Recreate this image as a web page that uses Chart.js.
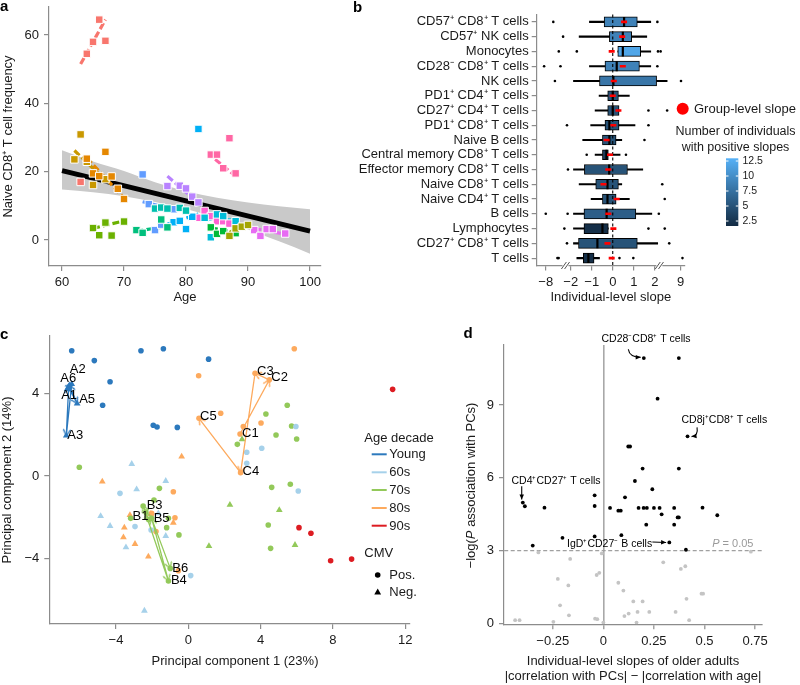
<!DOCTYPE html>
<html><head><meta charset="utf-8">
<script src="https://cdn.jsdelivr.net/npm/chart.js@4.4.1/dist/chart.umd.min.js"></script>
<style>
html,body{margin:0;padding:0;background:#fff;}
#wrap{position:relative;width:800px;height:685px;overflow:hidden;background:#fff;}
canvas{position:absolute;left:0;top:0;}
</style></head><body>
<div id="wrap">
<canvas id="ca" width="800" height="685"></canvas>
<canvas id="cb" width="800" height="685"></canvas>
<canvas id="cc" width="800" height="685"></canvas>
<canvas id="cd" width="800" height="685"></canvas>
</div>
<script>
// ================= DATA =================
// ---- Panel a: naive CD8+ T cell frequency vs age, per individual ----
const indivAges = [
  [63,64,65,66,67],
  [64,65,66,67,68,69,70],
  [62,63,64,65,67],
  [87,88,89,90],
  [65,66,67,68,70],
  [84,85,86,88],
  [72,73,76,77],
  [75,76,77,79,80],
  [83,84,85,86,88],
  [78,79,80,81,82],
  [73,74,75,76,78],
  [77,79,80,81,82],
  [91,92,93,94,96],
  [82,83,84,85,86,87],
  [84,85,86,87,88]
];
const indivFreq = [
  [17.0,54.5,58.0,64.5,58.3],
  [23.8,19.5,18.7,25.8,18.6,15.0,12.0],
  [23.6,30.9,22.9,16.1,17.8],
  [1.2,3.4,3.9,4.4],
  [3.5,1.4,5.1,1.3,5.4],
  [3.7,1.8,2.6,2.0],
  [2.9,2.1,6.0,3.7],
  [9.2,9.5,9.2,9.4,8.6],
  [6.5,0.8,7.5,7.0,5.5],
  [5.2,5.6,3.2,6.8,32.5],
  [19.2,10.5,2.9,4.5,9.0],
  [15.8,15.9,15.1,12.7,11.0],
  [2.9,1.2,3.2,3.2,1.9],
  [6.5,8.5,7.0,5.5,5.5,4.8],
  [25.0,25.0,21.0,29.8,19.5]
];
const indivFitAge = [[63,67],[64,70],[62,67],[87,90],[65,70],[84,88],[72,77],[75,80],[83,88],[77,82],[73,78],[77,82],[91,96],[82,87],[84.7,87.6]];
const indivFitFreq = [[51.5,64.5],[24.0,12.3],[26.2,17.5],[2.2,4.6],[3.4,5.6],[3.5,2.3],[2.6,4.0],[9.6,8.8],[6.2,5.8],[4.6,7.6],[11.2,9.0],[18.7,10.8],[3.3,1.7],[7.0,5.3],[23.6,19.3]];
const popAge = [60, 100];
const popFit = [20.3, 2.6];
const bandAge = [60,65,70,75,80,85,90,95,100];
const bandUpper = [26.3,23.0,20.2,16.9,14.3,12.4,11.0,9.9,9.0];
const bandLower = [14.8,14.0,12.8,11.1,9.1,6.4,3.1,-0.4,-4.0];
const ageTicks = [60,70,80,90,100];
const freqTicks = [0,20,40,60];

// ---- Panel b: individual-level slopes by cell type ----
const cellTypes = ['CD57⁺ CD8⁺ T cells','CD57⁺ NK cells','Monocytes','CD28⁻ CD8⁺ T cells','NK cells','PD1⁺ CD4⁺ T cells','CD27⁺ CD4⁺ T cells','PD1⁺ CD8⁺ T cells','Naive B cells','Central memory CD8⁺ T cells','Effector memory CD8⁺ T cells','Naive CD8⁺ T cells','Naive CD4⁺ T cells','B cells','Lymphocytes','CD27⁺ CD8⁺ T cells','T cells'];
const posCounts = [9,9,12,9,8,5,5,5,5,3,5,5,5,6,2,5,2];
const boxQ1  = [-0.41,-0.16,0.24,-0.37,-0.63,-0.24,-0.24,-0.37,-0.49,-0.49,-1.35,-0.81,-0.49,-1.37,-1.37,-1.63,-1.40];
const boxQ3  = [1.17,0.90,1.33,1.27,2.50,0.27,0.30,0.30,0.16,-0.21,0.70,0.27,0.16,1.10,-0.21,1.17,-0.89];
const boxMed = [0.54,0.48,0.48,0.19,0.03,0.00,0.00,-0.16,-0.16,-0.30,-0.17,-0.25,-0.25,-0.29,-0.49,-0.73,-1.16];
const whiskLo = [-1.11,-1.60,0.24,-1.11,-1.87,-0.65,-0.84,-1.05,-1.43,-0.84,-1.87,-1.60,-1.03,-1.87,-1.87,-1.87,-1.71];
const whiskHi = [1.81,1.62,1.81,1.81,5.35,0.79,0.30,1.06,0.43,0.35,1.43,0.43,0.79,1.86,-0.21,2.80,-0.63];
const groupSlope = [0.54,0.45,-0.05,0.48,0.05,0.00,0.27,0.03,-0.29,-0.13,-0.21,-0.44,0.19,-0.21,0.03,-0.25,-0.05];
const outlierRow = [0,0,1,2,2,2,2,3,3,3,4,4,6,6,7,7,8,9,9,10,11,12,13,13,13,14,14,14,15,15,16,16,16,16,16];
const outlierVal = [-6.19,2.71,-3.84,-4.87,-1.71,2.87,3.58,-8.4,-4.47,2.71,-5.8,9.1,1.7,5.35,-2.9,1.7,1.51,-1.24,0.63,-2.66,4.03,4.7,-8.0,-2.75,3.1,-3.53,1.7,4.7,-2.9,5.92,-5.2,-4.9,0.32,0.98,9.5];
const slopeTicks = [-8,-2,-1,0,1,2,9];
const countBarTicks = [12.5,10,7.5,5,2.5];

// ---- Panel c: principal components, by age decade and CMV ----
const decades = ['Young','60s','70s','80s','90s'];
const pcYoungPos = [[-6.45,6.06],[-5.20,5.58],[-4.33,4.56],[-4.74,3.42],[-2.62,6.06],[-1.38,6.15],[1.12,5.65],[-1.94,2.45],[-1.73,2.37],[-0.61,2.35]];
const pcYoungNeg = [];
const pc60Pos = [[5.95,2.39],[4.06,1.34],[3.23,1.15],[3.23,0.61],[6.08,-0.73],[-3.78,-0.84],[-2.95,-2.45],[-2.06,-2.61],[0.13,-4.82]];
const pc60Neg = [[-3.13,0.58],[-2.86,-0.65],[-1.25,-0.24],[-4.85,-1.94],[-4.33,-2.42],[-3.45,-3.45],[-1.25,-2.9],[-1.66,-1.81],[-2.43,-6.52]];
const pc70Pos = [[-6.03,0.42],[-1.6,-0.6],[-1.9,-1.16],[-3.19,-2.05],[-1.1,-2.05],[-1.2,-2.5],[-0.52,-2.85],[4.29,3.0],[5.47,3.42],[5.71,2.42],[4.85,1.98],[5.99,1.79],[2.71,1.53],[4.61,-0.55],[5.64,-0.40],[4.42,-2.37],[4.55,-3.5]];
const pc70Neg = [[2.97,1.77],[2.3,-1.4],[5.03,-1.65],[1.14,-3.39],[5.9,-3.34]];
const pc80Pos = [[5.86,6.15],[0.57,4.85],[1.79,3.03],[4.02,2.56],[3.04,2.39],[-0.83,-0.76],[-0.74,-2.02],[-1.79,-2.69],[-2.03,-1.81],[-0.55,-4.58]];
const pc80Neg = [[-0.37,0.94],[-4.76,-0.27],[-3.23,-1.89],[-3.54,-2.5],[-3.59,-2.97],[-2.95,-3.29],[-2.21,-3.9],[-0.83,-2.26],[-2.08,-1.84]];
const pc90Pos = [[11.3,4.19],[6.12,-2.5],[6.78,-2.77],[7.87,-4.1],[9.03,-4.02]];
const pc90Neg = [];
// trajectories of individuals A (young, CMV-), B (70s, CMV+), C (80s, CMV+)
const trajA = [[-6.70,4.20],[-6.45,4.45],[-6.75,1.95],[-6.62,4.30],[-6.15,3.50],[-6.58,4.38]];
const trajALabels = ['A1','A2','A3','','A5','A6'];
const trajB = [[-2.20,-2.10],[-2.35,-1.75],[-2.50,-1.45],[-1.10,-5.08],[-2.03,-2.05],[-1.00,-4.47]];
const trajBLabels = ['B1','','B3','B4','B5','B6'];
const trajC = [[2.86,2.03],[4.48,4.65],[3.69,4.97],[2.89,0.16],[0.59,2.79]];
const trajCLabels = ['C1','C2','C3','C4','C5'];
const pc1Ticks = [-4,0,4,8,12];
const pc2Ticks = [-4,0,4];

// ---- Panel d: slope differences vs -log(P) ----
const dSig = [[0.2,10.93],[0.373,10.93],[0.268,9.26],[0.416,7.71],[0.123,7.29],[0.132,7.29],[0.194,6.38],[0.373,6.38],[0.156,5.87],[0.242,5.53],[-0.043,5.28],[0.107,5.2],[-0.043,4.84],[-0.398,4.98],[-0.388,4.83],[-0.291,4.77],[0.033,4.76],[0.074,4.65],[0.086,4.65],[0.174,4.76],[0.199,4.76],[0.215,4.76],[0.25,4.76],[0.278,4.76],[0.288,4.5],[0.35,4.76],[0.367,4.37],[0.373,4.37],[0.49,4.77],[0.563,4.46],[0.212,4.07],[0.35,4.07],[0.089,3.64],[-0.043,3.59],[-0.202,3.53],[-0.349,3.21],[0.326,3.34],[0.408,3.04]];
const dNs = [[-0.321,2.93],[-0.008,2.89],[0.729,2.96],[-0.164,2.66],[-0.225,1.84],[-0.173,1.57],[-0.033,2.0],[-0.02,2.09],[0.074,1.68],[0.099,1.36],[0.296,2.52],[0.383,2.25],[0.405,2.36],[0.148,0.91],[0.194,0.91],[0.485,1.23],[0.493,1.23],[0.411,1.02],[-0.214,0.75],[-0.17,0.34],[0.104,0.31],[0.125,0.41],[0.169,0.48],[0.227,0.48],[0.357,0.48],[-0.436,0.14],[-0.414,0.14],[-0.247,0.07],[-0.041,0.2],[-0.03,0.18],[0.0,0.04],[0.164,0.04],[0.424,0.14]];
const pThreshold = 3;
const dXTicks = [-0.25,0,0.25,0.5,0.75];
const dYTicks = [0,3,6,9];

// ================= STYLE / HELPERS =================
const FONT = "'Liberation Sans', Arial, Helvetica, sans-serif";
const AXIS_GREY = '#8c8c8c';
const TEXT = '#1a1a1a';
const indivColors = ['#F8766D','#E58700','#C99800','#A3A500','#6BB100','#00BA38','#00BF7D','#00C0AF','#00BCD8','#00B0F6','#619CFF','#B983FF','#E76BF3','#FD61D1','#FF67A4'];
const decadeColors = ['#2C79BD','#A6D1EA','#93C95A','#FDAA5E','#DD1C22'];

Chart.defaults.font.family = FONT;
Chart.defaults.font.size = 13;
Chart.defaults.color = TEXT;
Chart.defaults.animation = false;
Chart.defaults.responsive = false;
Chart.defaults.events = [];
Chart.defaults.plugins.legend.display = false;
Chart.defaults.plugins.tooltip.enabled = false;

const minus = v => (v < 0 ? '\u2212' : '') + Math.abs(v);
function fitAxis(size) {
  return function (s) {
    if (s.isHorizontal()) s.height = size; else s.width = size;
    s.paddingTop = 0; s.paddingBottom = 0; s.paddingLeft = 0; s.paddingRight = 0;
  };
}
function fixedTicks(values) { return s => { s.ticks = values.map(v => ({ value: v })); }; }
function axis(o) {
  return {
    type: o.type || 'linear', min: o.min, max: o.max, offset: o.offset || false,
    afterFit: fitAxis(o.size),
    afterBuildTicks: o.ticks ? fixedTicks(o.ticks) : undefined,
    border: { display: true, color: AXIS_GREY, width: 1.2, dash: o.dash || [] },
    grid: Object.assign({ drawOnChartArea: false, drawTicks: true, tickLength: 5, color: AXIS_GREY, tickColor: AXIS_GREY, tickWidth: 1.2, lineWidth: 1.2 }, o.grid || {}),
    ticks: { color: TEXT, font: { size: 13, family: FONT }, padding: o.pad == null ? 4 : o.pad, autoSkip: false, maxRotation: 0, minRotation: 0, callback: o.cb || ((v) => minus(v)) },
    title: o.title ? { display: true, text: o.title, font: { size: 13, family: FONT }, color: TEXT, padding: o.titlePad || { top: 0, bottom: 0 } } : { display: false }
  };
}
function txt(ctx, text, x, y, o = {}) {
  ctx.save();
  ctx.font = `${o.italic ? 'italic ' : ''}${o.bold ? 'bold ' : ''}${o.size || 13}px ${FONT}`;
  ctx.fillStyle = o.color || TEXT;
  ctx.textAlign = o.align || 'left';
  ctx.textBaseline = o.baseline || 'middle';
  ctx.fillText(text, x, y);
  ctx.restore();
}
function rich(ctx, parts, x, y, size, align, color) {
  ctx.save(); ctx.textBaseline = 'middle'; ctx.textAlign = 'left'; ctx.fillStyle = color || TEXT;
  const fonts = parts.map(p => `${p[1] ? 'italic ' : ''}${size}px ${FONT}`);
  let total = 0;
  const w = parts.map((p, i) => { ctx.font = fonts[i]; const m = ctx.measureText(p[0]).width; total += m; return m; });
  let cx = align === 'center' ? x - total / 2 : (align === 'right' ? x - total : x);
  parts.forEach((p, i) => { ctx.font = fonts[i]; ctx.fillText(p[0], cx, y); cx += w[i]; });
  ctx.restore();
}
function solidArrow(ctx, x1, y1, x2, y2, cx, cy, color) {
  ctx.save(); ctx.strokeStyle = color; ctx.fillStyle = color; ctx.lineWidth = 1.1;
  ctx.beginPath(); ctx.moveTo(x1, y1);
  if (cx != null) ctx.quadraticCurveTo(cx, cy, x2, y2); else ctx.lineTo(x2, y2);
  ctx.stroke();
  const ang = cx != null ? Math.atan2(y2 - cy, x2 - cx) : Math.atan2(y2 - y1, x2 - x1);
  const L = 5.5, S = 0.42;
  ctx.beginPath(); ctx.moveTo(x2, y2);
  ctx.lineTo(x2 - L * Math.cos(ang - S), y2 - L * Math.sin(ang - S));
  ctx.lineTo(x2 - L * Math.cos(ang + S), y2 - L * Math.sin(ang + S));
  ctx.closePath(); ctx.fill();
  ctx.restore();
}
function panelLabel(ctx, t, x, y) { txt(ctx, t, x, y, { bold: true, size: 15, baseline: 'alphabetic', color: '#000' }); }

// ================= PANEL A =================
const dsA = [];
indivAges.forEach((ages, k) => {
  dsA.push({ type: 'scatter', data: ages.map((a, i) => ({ x: a, y: indivFreq[k][i] })),
    pointStyle: 'rect', pointRadius: 5.3, pointBackgroundColor: indivColors[k], pointBorderColor: '#ffffff', pointBorderWidth: 1, order: 0 });
  dsA.push({ type: 'line', data: indivFitAge[k].map((a, i) => ({ x: a, y: indivFitFreq[k][i] })),
    borderColor: indivColors[k], borderWidth: 3.2, borderDash: [7, 3], pointRadius: 0, fill: false, order: 1 });
});
dsA.push({ type: 'line', data: popAge.map((a, i) => ({ x: a, y: popFit[i] })), borderColor: '#000', borderWidth: 5, pointRadius: 0, fill: false, order: 2 });
dsA.push({ type: 'line', data: bandAge.map((a, i) => ({ x: a, y: bandUpper[i] })), borderWidth: 0, borderColor: 'rgba(0,0,0,0)', pointRadius: 0, cubicInterpolationMode: 'monotone', fill: '+1', backgroundColor: '#C9C9C9', order: 3 });
dsA.push({ type: 'line', data: bandAge.map((a, i) => ({ x: a, y: bandLower[i] })), borderWidth: 0, borderColor: 'rgba(0,0,0,0)', pointRadius: 0, cubicInterpolationMode: 'monotone', fill: false, order: 3 });

new Chart(document.getElementById('ca'), {
  type: 'scatter',
  data: { datasets: dsA },
  options: {
    layout: { padding: { left: 0, top: 7, right: 479, bottom: 380.2 } },
    scales: {
      x: axis({ min: 57.9, max: 101.77, size: 38.8, ticks: ageTicks, title: 'Age', pad: 4 }),
      y: axis({ min: -7.61, max: 68.2, size: 49, ticks: freqTicks, title: 'Naive CD8⁺ T cell frequency', titlePad: { top: 1, bottom: 0 }, pad: 5 })
    }
  },
  plugins: [{ id: 'decoA', afterDraw(ch) { panelLabel(ch.ctx, 'a', 0, 11); } }]
});

// ================= PANEL B =================
const slopeToAxis = v => (v > 2 ? 2 + (v - 2) * 0.176 : (v < -2 ? -2 + (v + 2) * 0.198 : v));
const cbLo = [19, 43, 67], cbHi = [86, 177, 247], cbMin = 1.67, cbMax = 12.95;
function countColor(n) {
  const t = Math.max(0, Math.min(1, (n - cbMin) / (cbMax - cbMin)));
  return 'rgb(' + cbLo.map((l, i) => Math.round(l + (cbHi[i] - l) * t)).join(',') + ')';
}
const dsB = [
  { type: 'bar', indexAxis: 'y', data: cellTypes.map((_, i) => [slopeToAxis(boxQ1[i]), slopeToAxis(boxQ3[i])]),
    backgroundColor: posCounts.map(countColor), borderColor: '#000', borderWidth: 1, borderSkipped: false, barThickness: 10, grouped: false, order: 4 },
  { type: 'bar', indexAxis: 'y', data: cellTypes.map((_, i) => [slopeToAxis(whiskLo[i]), slopeToAxis(boxQ1[i])]),
    backgroundColor: '#000', borderWidth: 0, barThickness: 1.4, grouped: false, order: 3 },
  { type: 'bar', indexAxis: 'y', data: cellTypes.map((_, i) => [slopeToAxis(boxQ3[i]), slopeToAxis(whiskHi[i])]),
    backgroundColor: '#000', borderWidth: 0, barThickness: 1.4, grouped: false, order: 3 },
  { type: 'line', indexAxis: 'y', data: cellTypes.map((c, i) => ({ x: slopeToAxis(boxMed[i]), y: c })), showLine: false,
    pointStyle: 'line', pointRotation: 90, pointRadius: 5, pointBorderWidth: 2.2, pointBorderColor: '#000', order: 2 },
  { type: 'line', indexAxis: 'y', data: cellTypes.map((c, i) => ({ x: slopeToAxis(groupSlope[i]), y: c })), showLine: false,
    pointStyle: 'line', pointRadius: 3, pointBorderWidth: 2.6, pointBorderColor: '#FF0000', order: 1 },
  { type: 'line', indexAxis: 'y', data: outlierRow.map((r, i) => ({ x: slopeToAxis(outlierVal[i]), y: cellTypes[r] })), showLine: false,
    pointRadius: 1.3, pointBackgroundColor: '#000', pointBorderWidth: 0, order: 0 }
];
const decoB = {
  id: 'decoB',
  afterDatasetDraw(ch, args) {
    if (args.index !== 0) return;
    const { ctx, chartArea } = ch; const x = ch.scales.x.getPixelForValue(0);
    ctx.save(); ctx.strokeStyle = '#000'; ctx.lineWidth = 1.1; ctx.setLineDash([3, 2.5]);
    ctx.beginPath(); ctx.moveTo(x, chartArea.top); ctx.lineTo(x, chartArea.bottom); ctx.stroke(); ctx.restore();
  },
  afterDraw(ch) {
    const { ctx, chartArea } = ch;
    panelLabel(ctx, 'b', 353, 11.5);
    // axis break marks
    [-2.25, 2.22].forEach(u => {
      const x = ch.scales.x.getPixelForValue(u), y = chartArea.bottom;
      ctx.save(); ctx.fillStyle = '#fff'; ctx.fillRect(x - 3, y - 2, 6, 4);
      ctx.strokeStyle = '#555'; ctx.lineWidth = 1;
      [-1.6, 1.6].forEach(d => { ctx.beginPath(); ctx.moveTo(x + d - 2.5, y + 3.5); ctx.lineTo(x + d + 2.5, y - 3.5); ctx.stroke(); });
      ctx.restore();
    });
    // group-level legend
    ctx.save(); ctx.fillStyle = '#FF0000'; ctx.beginPath(); ctx.arc(682.7, 108.7, 6, 0, Math.PI * 2); ctx.fill(); ctx.restore();
    txt(ctx, 'Group-level slope', 694, 109);
    // colorbar
    txt(ctx, 'Number of individuals', 735.5, 131.7, { align: 'center', size: 12.5 });
    txt(ctx, 'with positive slopes', 735.5, 147.3, { align: 'center', size: 12.5 });
    const x0 = 726, x1 = 738.3, yT = 158.3, yB = 226;
    const g = ctx.createLinearGradient(0, yB, 0, yT);
    g.addColorStop(0, countColor(cbMin)); g.addColorStop(1, countColor(cbMax));
    ctx.save(); ctx.fillStyle = g; ctx.fillRect(x0, yT, x1 - x0, yB - yT);
    ctx.strokeStyle = '#fff'; ctx.lineWidth = 1;
    countBarTicks.forEach(v => {
      const y = yB - (v - cbMin) / (cbMax - cbMin) * (yB - yT);
      ctx.beginPath(); ctx.moveTo(x0, y); ctx.lineTo(x0 + 2.5, y); ctx.moveTo(x1 - 2.5, y); ctx.lineTo(x1, y); ctx.stroke();
      txt(ctx, String(v), 742.5, y, { size: 10.5 });
    });
    ctx.restore();
  }
};
new Chart(document.getElementById('cb'), {
  type: 'bar',
  data: { labels: cellTypes, datasets: dsB },
  options: {
    indexAxis: 'y',
    layout: { padding: { left: 336.7, top: 14.5, right: 115, bottom: 380.2 } },
    scales: {
      x: axis({ min: -3.62, max: 3.44, size: 39.3, ticks: slopeTicks.map(slopeToAxis), cb: (v, i) => minus(slopeTicks[i]), title: 'Individual-level slope', pad: 4 }),
      y: axis({ type: 'category', offset: true, size: 200, pad: 3, grid: { offset: false }, cb: function (v, i) { return cellTypes[i]; } })
    }
  },
  plugins: [decoB]
});

// ================= PANEL C =================
function makeArrowHead(color) {
  const c = document.createElement('canvas'); c.width = 16; c.height = 16;
  const g = c.getContext('2d'); g.strokeStyle = color; g.lineWidth = 1.3; g.lineCap = 'round'; g.lineJoin = 'round';
  g.beginPath(); g.moveTo(2.3, 4.6); g.lineTo(8, 8); g.lineTo(2.3, 11.4); g.stroke();
  return c;
}
const toXY = arr => arr.map(p => ({ x: p[0], y: p[1] }));
const pcPos = [pcYoungPos, pc60Pos, pc70Pos.concat(trajB), pc80Pos.concat(trajC), pc90Pos];
const pcNeg = [pcYoungNeg.concat(trajA), pc60Neg, pc70Neg, pc80Neg, pc90Neg];
const dsC = [];
const trajs = [[trajA, 0], [trajB, 2], [trajC, 3]];
trajs.forEach(([tr, d]) => {
  dsC.push({ type: 'line', data: toXY(tr), borderColor: decadeColors[d], borderWidth: 1.3, pointRadius: 0, fill: false, tension: 0, order: 1 });
  dsC.push({ type: 'scatter', data: toXY(tr.slice(1)), src: toXY(tr.slice(0, -1)), pointStyle: makeArrowHead(decadeColors[d]), pointRadius: 4, order: 0,
    pointRotation: (c) => {
      const xs = c.chart.scales.x, ys = c.chart.scales.y; const p = c.dataset.data[c.dataIndex], q = c.dataset.src[c.dataIndex];
      if (!p || !q) return 0;
      return Math.atan2(ys.getPixelForValue(p.y) - ys.getPixelForValue(q.y), xs.getPixelForValue(p.x) - xs.getPixelForValue(q.x)) * 180 / Math.PI;
    } });
});
decades.forEach((d, k) => {
  dsC.push({ type: 'scatter', data: toXY(pcPos[k]), pointStyle: 'circle', pointRadius: 2.8, pointBackgroundColor: decadeColors[k], pointBorderWidth: 0, order: 2 });
  dsC.push({ type: 'scatter', data: toXY(pcNeg[k]), pointStyle: 'triangle', pointRadius: 3.9, pointBackgroundColor: decadeColors[k], pointBorderWidth: 0, order: 2 });
});
const trajLabelOffset = { A1: [-6, 6], A2: [-2, -15], A3: [1, 0], A5: [2, -4], A6: [-9, -7], B1: [-16, -3], B3: [3.5, -1], B4: [2.5, -1], B5: [2, 0], B6: [2, 0], C1: [2, -1], C2: [2, -2], C3: [2, -2], C4: [2, -1], C5: [1, -2] };
const decoC = {
  id: 'decoC',
  afterDraw(ch) {
    const { ctx } = ch; const xs = ch.scales.x, ys = ch.scales.y;
    panelLabel(ctx, 'c', 0, 339.3);
    [[trajA, trajALabels], [trajB, trajBLabels], [trajC, trajCLabels]].forEach(([tr, labs]) => {
      tr.forEach((p, i) => {
        const l = labs[i]; if (!l) return; const o = trajLabelOffset[l] || [2, 0];
        txt(ctx, l, xs.getPixelForValue(p[0]) + o[0], ys.getPixelForValue(p[1]) + o[1], { size: 13, color: '#000' });
      });
    });
    txt(ctx, 'Principal component 1 (23%)', 235, 661, { align: 'center' });
    // legend
    txt(ctx, 'Age decade', 364.3, 438.3);
    const ly = [454.3, 472.3, 490, 508, 525.7];
    decades.forEach((d, k) => {
      ctx.save(); ctx.strokeStyle = decadeColors[k]; ctx.lineWidth = 2; ctx.beginPath(); ctx.moveTo(371.7, ly[k]); ctx.lineTo(386.7, ly[k]); ctx.stroke(); ctx.restore();
      txt(ctx, d, 389.3, ly[k] + 0.5);
    });
    txt(ctx, 'CMV', 364.3, 553.3);
    ctx.save(); ctx.fillStyle = '#000';
    ctx.beginPath(); ctx.arc(377.7, 575, 2.8, 0, Math.PI * 2); ctx.fill();
    ctx.beginPath(); ctx.moveTo(377.7, 588.5); ctx.lineTo(381.1, 594.4); ctx.lineTo(374.3, 594.4); ctx.closePath(); ctx.fill();
    ctx.restore();
    txt(ctx, 'Pos.', 389.3, 575.5);
    txt(ctx, 'Neg.', 389.3, 592.8);
  }
};
new Chart(document.getElementById('cc'), {
  type: 'scatter',
  data: { datasets: dsC },
  options: {
    layout: { padding: { left: 0, top: 336, right: 390, bottom: 16.2 } },
    scales: {
      x: axis({ min: -7.69, max: 12.26, size: 44.8, ticks: pc1Ticks, pad: 4 }),
      y: axis({ min: -7.16, max: 6.77, size: 49.3, ticks: pc2Ticks, title: 'Principal component 2 (14%)', titlePad: { top: 0, bottom: 0 }, pad: 5 })
    }
  },
  plugins: [decoC]
});

// ================= PANEL D =================
const dsD = [
  { type: 'scatter', data: toXY(dSig), pointRadius: 1.9, pointBackgroundColor: '#000', pointBorderWidth: 0, order: 0 },
  { type: 'scatter', data: toXY(dNs), pointRadius: 1.9, pointBackgroundColor: '#C4C4C4', pointBorderWidth: 0, order: 1 }
];
const decoD = {
  id: 'decoD',
  afterDraw(ch) {
    const { ctx } = ch; const xs = ch.scales.x, ys = ch.scales.y;
    const P = (x, y) => [xs.getPixelForValue(x), ys.getPixelForValue(y)];
    panelLabel(ctx, 'd', 463.5, 338.3);
    ctx.save(); ctx.translate(471.3, 485.5); ctx.rotate(-Math.PI / 2);
    rich(ctx, [['\u2212log(', false], ['P', true], [' association with PCs)', false]], 0, 0, 13, 'center');
    ctx.restore();
    // annotations
    let t = P(0.2, 10.93);
    txt(ctx, 'CD28⁻CD8⁺ T cells', t[0] + 2.2, t[1] - 18.9, { size: 10.5, align: 'center', color: '#000' });
    solidArrow(ctx, t[0] - 15.5, t[1] - 8.9, t[0] - 3.1, t[1] - 0.9, t[0] - 14.5, t[1] - 1, '#000');
    t = P(0.416, 7.71);
    txt(ctx, 'CD8j⁺CD8⁺ T cells', t[0] + 36.8, t[1] - 16.1, { size: 10.5, align: 'center', color: '#000' });
    solidArrow(ctx, t[0] + 9.5, t[1] - 9, t[0] + 4, t[1] + 0.3, t[0] + 11, t[1] - 0.5, '#000');
    t = P(-0.398, 4.98);
    txt(ctx, 'CD4⁺CD27⁺ T cells', t[0] + 33.2, t[1] - 21.7, { size: 10.5, align: 'center', color: '#000' });
    solidArrow(ctx, t[0] - 1.1, t[1] - 16.4, t[0] - 1.1, t[1] - 3.2, null, null, '#000');
    t = P(0.326, 3.34);
    txt(ctx, 'IgD⁺CD27⁻ B cells', t[0] - 59.7, t[1] + 1.5, { size: 10.5, align: 'center', color: '#000' });
    solidArrow(ctx, t[0] - 17, t[1] - 0.5, t[0] - 3.2, t[1], null, null, '#000');
    t = P(0.75, pThreshold);
    rich(ctx, [['P', true], [' = 0.05', false]], t[0] - 1.7, t[1] - 6.8, 11, 'right', '#9a9a9a');
  }
};
new Chart(document.getElementById('cd'), {
  type: 'scatter',
  data: { datasets: dsD },
  options: {
    layout: { padding: { left: 463.9, top: 345, right: 38, bottom: 0.5 } },
    scales: {
      x: axis({ min: -0.491, max: 0.784, size: 60.2, ticks: dXTicks, pad: 4,
        title: ['Individual-level slopes of older adults', '|correlation with PCs| \u2212 |correlation with age|'],
        grid: { drawOnChartArea: true, lineWidth: 1.6, color: c => (c.tick && c.tick.value === 0 ? '#A8A8A8' : 'rgba(0,0,0,0)') } }),
      y: axis({ min: -0.03, max: 11.47, size: 40.1, ticks: dYTicks, pad: 5, dash: [4, 2.5],
        grid: { drawOnChartArea: true, lineWidth: 1.3, color: c => (c.tick && c.tick.value === pThreshold ? '#A0A0A0' : 'rgba(0,0,0,0)') } })
    }
  },
  plugins: [decoD]
});
</script>
</body></html>
